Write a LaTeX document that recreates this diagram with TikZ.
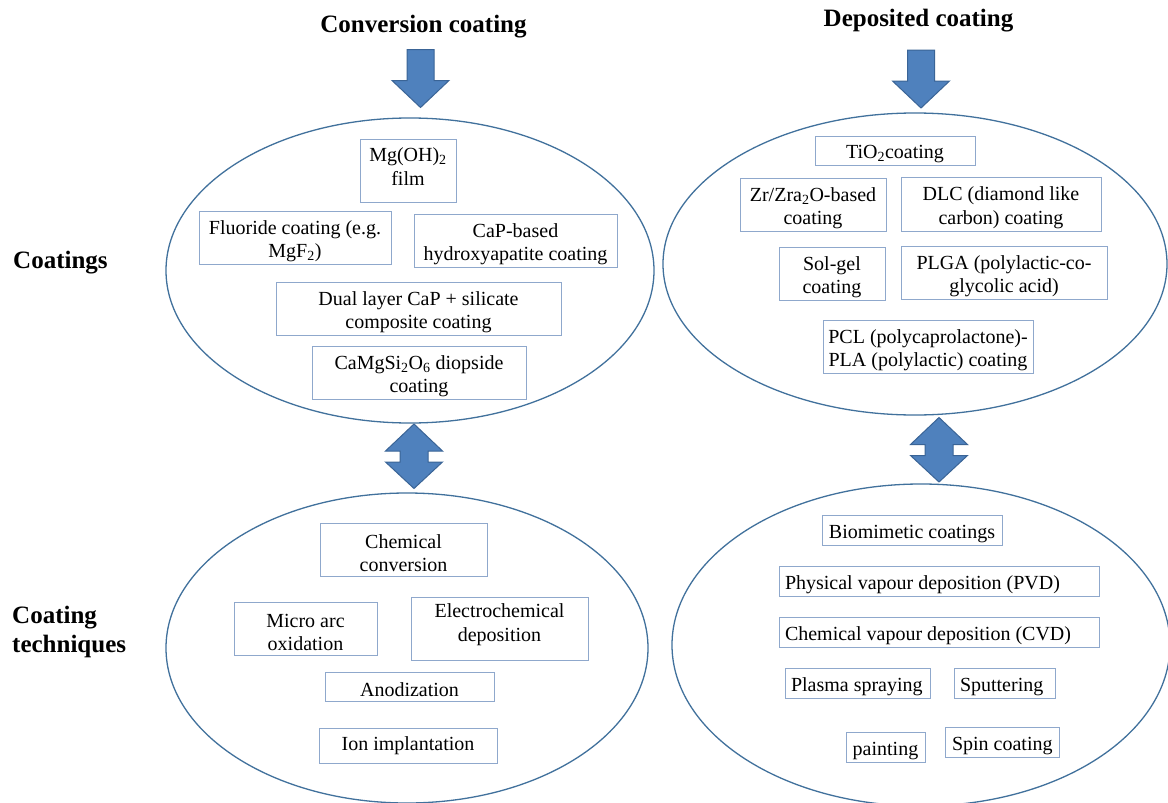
\documentclass[tikz,border=0pt]{standalone}
\usepackage{fontspec}
\setmainfont{Liberation Serif}
\usetikzlibrary{shapes.geometric}
\definecolor{ellc}{HTML}{41719C}
\definecolor{boxc}{HTML}{8FA8CC}
\definecolor{arrfill}{HTML}{4F81BD}
\definecolor{arrline}{HTML}{3A6496}
\newcommand\mystrut{\rule{0pt}{21pt}}
\newcommand\mydepth[1]{\rule[-#1]{0pt}{0pt}}
\tikzset{
  ell/.style={ellipse, draw=ellc, line width=1.3pt, inner sep=0pt},
  bx/.style={draw=boxc, line width=1pt, inner sep=0pt, align=center,
     font=\fontsize{20}{23.5}\selectfont},
  ttl/.style={font=\fontsize{25}{29}\selectfont\bfseries, inner sep=0pt},
  blockarrow/.style={fill=arrfill, draw=arrline, line width=1pt, line join=miter},
  downarr/.pic={\filldraw[blockarrow] (-13.5,0) -- (13.5,0) -- (13.5,31) -- (28.5,31)
     -- (0,58) -- (-28.5,31) -- (-13.5,31) -- cycle;},
  updownarr/.pic={\filldraw[blockarrow] (0,0) -- (28.5,27) -- (14,27) -- (14,38) -- (28.5,38)
     -- (0,64.5) -- (-28.5,38) -- (-14,38) -- (-14,27) -- (-28.5,27) -- cycle;}
}
\begin{document}
\begin{tikzpicture}[x=1pt,y=-1pt]
\useasboundingbox (0,0) rectangle (1168,803);
\fill[white] (0,0) rectangle (1168,803);

% titles
\node[ttl, anchor=base] (t1) at (423.5,32) {Conversion coating};
\node[ttl, anchor=base] (t2) at (918.5,27) {Deposited coating};
\node[ttl, anchor=base west] (lc) at (13,268) {Coatings};
\node[ttl, anchor=west, align=left] (lt) at (12,632) {Coating\\techniques};

% ellipses
\node[ell, minimum width=488pt, minimum height=305pt] (e1) at (410,270.5) {};
\node[ell, minimum width=504pt, minimum height=302pt] (e2) at (915,264) {};
\node[ell, minimum width=482pt, minimum height=310pt] (e3) at (407,648) {};
\node[ell, minimum width=498pt, minimum height=322pt] (e4) at (921,645) {};

% block arrows
\coordinate (a1) at (420.5,49.5);
\coordinate (a2) at (921,50);
\pic at (a1) {downarr};
\pic at (a2) {downarr};
\coordinate (d1) at (414,424);
\coordinate (d2) at (939,417.5);
\pic at (d1) {updownarr};
\pic at (d2) {updownarr};

% conversion coatings
\node[bx, minimum width=96pt, minimum height=63pt] (mgoh) at (408,170.5) {Mg(OH)\textsubscript{2}\\film\mydepth{8pt}};
\node[bx, minimum width=192pt, minimum height=53pt] (fluor) at (295,237.5) {\mystrut Fluoride coating (e.g.\\MgF\textsubscript{2})};
\node[bx, minimum width=203pt, minimum height=53pt] (cap) at (515.5,240.5) {\mystrut CaP-based\\hydroxyapatite coating};
\node[bx, minimum width=285pt, minimum height=53pt] (dual) at (418.5,308.5) {\mystrut Dual layer CaP + silicate\\composite coating};
\node[bx, minimum width=214pt, minimum height=53pt] (diop) at (419,372.5) {\mystrut CaMgSi\textsubscript{2}O\textsubscript{6} diopside\\coating};

% deposited coatings
\node[bx, minimum width=160pt, minimum height=29pt] (tio) at (895,150.5) {\mystrut TiO\textsubscript{2}coating};
\node[bx, minimum width=146pt, minimum height=53pt] (zr) at (813,204.5) {\mystrut Zr/Zra\textsubscript{2}O-based\\coating};
\node[bx, minimum width=200pt, minimum height=54pt] (dlc) at (1001,204) {\mystrut DLC (diamond like\\carbon) coating};
\node[bx, minimum width=106pt, minimum height=53pt] (solgel) at (832,273.5) {\mystrut Sol-gel\\coating};
\node[bx, minimum width=206pt, minimum height=53pt] (plga) at (1004,272.5) {\mystrut PLGA (polylactic-co-\\glycolic acid)};
\node[bx, minimum width=210pt, minimum height=53pt] (pcl) at (928,346.5) {\mystrut PCL (polycaprolactone)-\\PLA (polylactic) coating};

% conversion techniques
\node[bx, minimum width=167pt, minimum height=53pt] (chem) at (403.5,549.5) {\mystrut Chemical\\conversion};
\node[bx, minimum width=143pt, minimum height=53pt] (micro) at (305.5,628.5) {\mystrut Micro arc\\oxidation};
\node[bx, minimum width=177pt, minimum height=63pt] (electro) at (499.5,628.5) {Electrochemical\\deposition\mydepth{11.5pt}};
\node[bx, minimum width=169pt, minimum height=29pt] (anod) at (409.5,686.5) {\mystrut Anodization};
\node[bx, minimum width=178pt, minimum height=35pt] (ion) at (408,745.5) {Ion implantation};

% deposition techniques
\node[bx, minimum width=180pt, minimum height=30pt] (bio) at (912,530) {\mystrut Biomimetic coatings};
\node[bx, minimum width=320pt, minimum height=30pt] (pvd) at (939,581) {\mystrut\makebox[308pt][l]{Physical vapour deposition (PVD)}};
\node[bx, minimum width=320pt, minimum height=30pt] (cvd) at (939,632) {\mystrut\makebox[308pt][l]{Chemical vapour deposition (CVD)}};
\node[bx, minimum width=145pt, minimum height=30pt] (plasma) at (857.5,683) {\mystrut\makebox[133pt][l]{Plasma spraying}};
\node[bx, minimum width=101pt, minimum height=30pt] (sputter) at (1004.5,683) {\mystrut\makebox[89pt][l]{Sputtering}};
\node[bx, minimum width=79pt, minimum height=30pt] (paint) at (885.5,747) {\mystrut painting};
\node[bx, minimum width=114pt, minimum height=30pt] (spin) at (1002,742) {\mystrut\makebox[100pt][l]{Spin coating}};
\end{tikzpicture}
\end{document}
